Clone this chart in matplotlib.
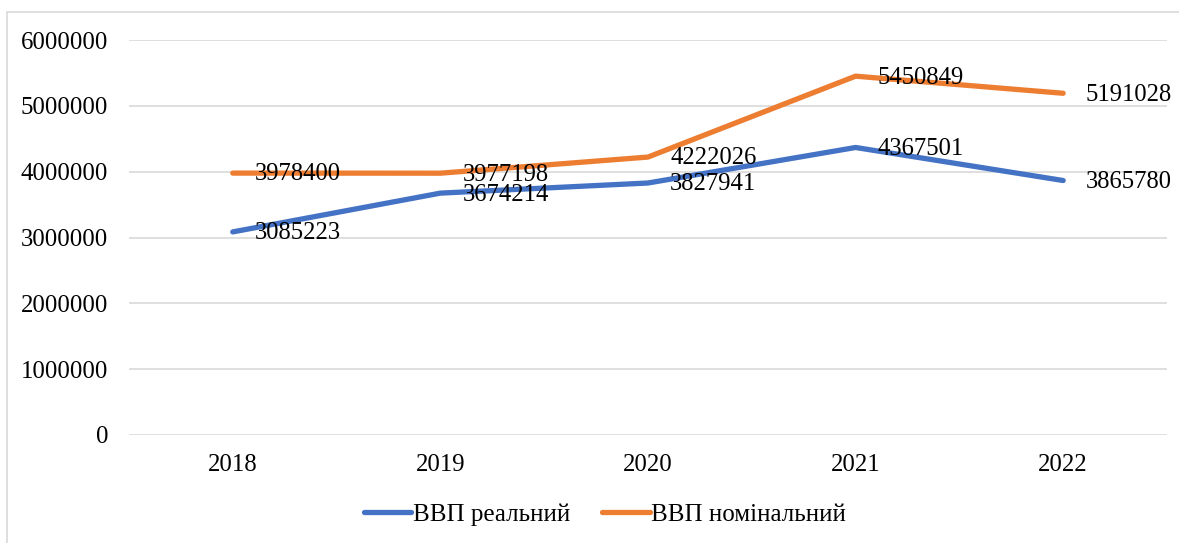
import matplotlib
matplotlib.use("Agg")
import matplotlib.pyplot as plt
from matplotlib.patches import Rectangle

years = ["2018", "2019", "2020", "2021", "2022"]
gdp_real = [3085223, 3674214, 3827941, 4367501, 3865780]
gdp_nominal = [3978400, 3977198, 4222026, 5450849, 5191028]
yticks = [0, 1000000, 2000000, 3000000, 4000000, 5000000, 6000000]

plt.rcParams['font.family'] = ['Liberation Serif', 'DejaVu Serif']

fig = plt.figure(figsize=(11.79, 5.43), dpi=100)
ax = fig.add_axes([0.1094, 0.1989, 0.8804, 0.7274])

# outer chart frame
fig.patches.append(Rectangle((7 / 1179, -0.1), 1.2, 1 - 12 / 543 + 0.1,
                             transform=fig.transFigure, fill=False,
                             edgecolor='#d9d9d9', linewidth=1.2))

x = list(range(len(years)))
ax.plot(x, gdp_real, color='#4472C4', linewidth=3.8, solid_capstyle='round',
        label='ВВП реальний')
ax.plot(x, gdp_nominal, color='#ED7D31', linewidth=3.8, solid_capstyle='round',
        label='ВВП номінальний')

for xi, v in zip(x, gdp_real):
    ax.annotate(str(v), (xi, v), xytext=(16, -1), textcoords='offset points',
                ha='left', va='center', fontsize=17.7)
for xi, v in zip(x, gdp_nominal):
    ax.annotate(str(v), (xi, v), xytext=(16, -1), textcoords='offset points',
                ha='left', va='center', fontsize=17.7)

ax.set_xlim(-0.5, 4.5)
ax.set_ylim(0, 6000000)
ax.set_xticks(x)
ax.set_xticklabels(years)
ax.set_yticks(yticks)
ax.set_yticklabels([str(t) for t in yticks])
ax.tick_params(axis='both', length=0, labelsize=17.8)
ax.tick_params(axis='y', pad=15)
ax.tick_params(axis='x', pad=14)
ax.grid(axis='y', color='#d9d9d9', linewidth=1.2)
ax.set_axisbelow(True)
for s in ax.spines.values():
    s.set_visible(False)

fig.legend(loc='center', bbox_to_anchor=(0.513, 0.052), ncol=2, frameon=False,
           fontsize=18, handlelength=1.9, handletextpad=0.05, columnspacing=1.3)

fig.savefig('out.png', dpi=100)
